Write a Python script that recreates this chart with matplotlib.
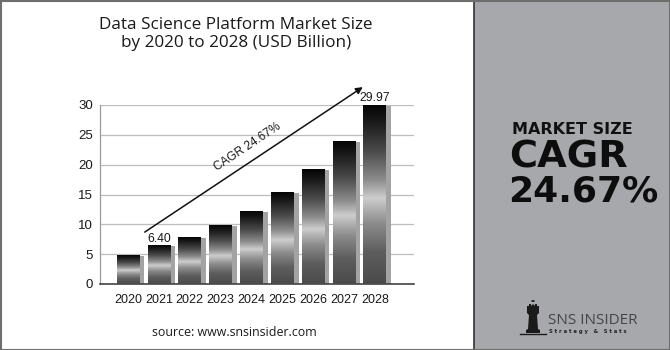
import numpy as np
import matplotlib
matplotlib.use("Agg")
import matplotlib.pyplot as plt
from matplotlib.colors import LinearSegmentedColormap
from matplotlib.patches import Rectangle, Polygon

# Market size by year (USD Billion)
years = ["2020", "2021", "2022", "2023", "2024", "2025", "2026", "2027", "2028"]
values = [4.8, 6.40, 7.8, 9.8, 12.2, 15.3, 19.2, 23.9, 29.97]
value_labels = {1: "6.40", 8: "29.97"}
y_ticks = [0, 5, 10, 15, 20, 25, 30]

title = "Data Science Platform Market Size\nby 2020 to 2028 (USD Billion)"
cagr_text = "CAGR 24.67%"
source = "source: www.snsinsider.com"

W, H = 670, 350
fig = plt.figure(figsize=(W / 100, H / 100), dpi=100)
fig.patch.set_facecolor("white")

# right-hand panel
panel_x = 474
fig.patches.append(Rectangle((panel_x / W, 0), (W - panel_x) / W, 1,
                             transform=fig.transFigure, facecolor="#a7a8ac",
                             edgecolor="none", zorder=0))
fig.lines.append(plt.Line2D([panel_x / W, panel_x / W], [0, 1], transform=fig.transFigure,
                            color="#333333", lw=1.2, zorder=1))
# outer frame
fig.patches.append(Rectangle((0.0008, 0.001), 0.9985, 0.997, transform=fig.transFigure,
                             facecolor="none", edgecolor="#6e6e6e", lw=1.5, zorder=5))

ax = fig.add_axes([100 / W, (H - 284) / H, 314 / W, 179 / H])
ax.set_facecolor("none")

x = np.arange(len(years))
bar_w = 0.74
shadow_w = 0.16

cmap = LinearSegmentedColormap.from_list("metal", [
    (0.00, "#4a4a4a"),
    (0.18, "#5e5e5e"),
    (0.34, "#8c8c8c"),
    (0.48, "#cdcdcd"),
    (0.58, "#8e8e8e"),
    (0.74, "#4c4c4c"),
    (0.90, "#1c1c1c"),
    (1.00, "#050505"),
])
grad = np.linspace(0, 1, 256).reshape(-1, 1)

for xi, v in zip(x, values):
    # side shadow
    ax.add_patch(Rectangle((xi + bar_w / 2, 0), shadow_w, v * 0.995,
                           facecolor="#a3a3a3", edgecolor="none", zorder=2))
    ax.imshow(grad, cmap=cmap, origin="lower", aspect="auto",
              extent=[xi - bar_w / 2, xi + bar_w / 2, 0, v], zorder=3,
              interpolation="bilinear")

tick_font = "Liberation Sans"
fs = 9
for i, lab in value_labels.items():
    ax.annotate(lab, (x[i], values[i]), xytext=(0, 0.8), textcoords="offset points",
                ha="center", va="bottom", fontsize=8.7, color="#1a1a1a",
                family=tick_font, annotation_clip=False, zorder=6)

# growth arrow
ax.annotate("", xy=(7.61, 33.0), xytext=(0.54, 8.7),
            arrowprops=dict(arrowstyle="-|>", color="#111111", lw=1.1,
                            mutation_scale=10, shrinkA=0, shrinkB=0),
            annotation_clip=False, zorder=6)
ax.text(3.86, 22.9, cagr_text, rotation=33.7, rotation_mode="anchor",
        ha="center", va="center", fontsize=8.5, color="#1a1a1a", family=tick_font)

ax.set_xlim(-0.91, 9.27)
ax.set_ylim(0, 30)
ax.set_yticks(y_ticks)
ax.set_yticklabels([str(t) for t in y_ticks], family=tick_font, fontsize=fs + 0.5, color="#1a1a1a")
ax.set_xticks(x)
ax.set_xticklabels(years, family=tick_font, fontsize=fs, color="#1a1a1a")
ax.tick_params(length=0, pad=7)
ax.tick_params(axis="y", pad=5)
ax.yaxis.grid(True, color="#bdbdbd", lw=0.9)
ax.set_axisbelow(True)
for s in ("top", "right"):
    ax.spines[s].set_visible(False)
ax.spines["left"].set_color("#9a9a9a")
ax.spines["left"].set_linewidth(0.9)
ax.spines["bottom"].set_color("#333333")
ax.spines["bottom"].set_linewidth(1.1)

fig.text(236 / W, 1 - 34 / H, title, ha="center", va="center", fontsize=12.3,
         family="Open Sans", color="#1a1a1a", linespacing=1.12)
fig.text(234 / W, 1 - 333 / H, source, ha="center", va="center", fontsize=8.9,
         family="Open Sans", color="#1a1a1a")

# right panel headline
fig.text(512 / W, 1 - 129 / H, "MARKET SIZE", ha="left", va="center", fontsize=11.5,
         fontweight="bold", family="DejaVu Sans", color="#111111")
fig.text(509 / W, 1 - 158 / H, "CAGR", ha="left", va="center", fontsize=27.5,
         fontweight="bold", family="DejaVu Sans", color="#0d0d0d")
fig.text(508 / W, 1 - 192 / H, "24.67%", ha="left", va="center", fontsize=26,
         fontweight="bold", family="DejaVu Sans", color="#0d0d0d")

# logo: rook icon and wordmark
def fx(px):
    return px / W

def fy(py):
    return 1 - py / H

rook = [(526, 333), (526, 330), (528, 329), (529, 315), (527, 313), (527, 306),
        (529, 306), (529, 304), (531, 304), (531, 306), (533, 304), (535, 306),
        (535, 304), (537, 304), (537, 306), (539, 306), (539, 313), (537, 315),
        (538, 329), (540, 330), (540, 333)]
fig.patches.append(Polygon([(fx(a), fy(b)) for a, b in rook], closed=True,
                           transform=fig.transFigure, facecolor="#1a1a1a",
                           edgecolor="none", zorder=6))
fig.patches.append(plt.Circle((fx(533), fy(301)), 1.8 / W, transform=fig.transFigure,
                              facecolor="#1a1a1a", zorder=6))
fig.lines.append(plt.Line2D([fx(520), fx(546)], [fy(334), fy(334)], transform=fig.transFigure,
                            color="#1a1a1a", lw=1.0, zorder=6))
fig.text(fx(548), fy(321), "SNS INSIDER", ha="left", va="center", fontsize=11,
         family="Open Sans", color="#444444")
fig.text(fx(549), fy(331.5), "S t r a t e g y   &   S t a t s", ha="left", va="center",
         fontsize=3.8, fontweight="bold", family="DejaVu Sans", color="#222222")

fig.savefig("out.png", dpi=100, facecolor=fig.get_facecolor())
